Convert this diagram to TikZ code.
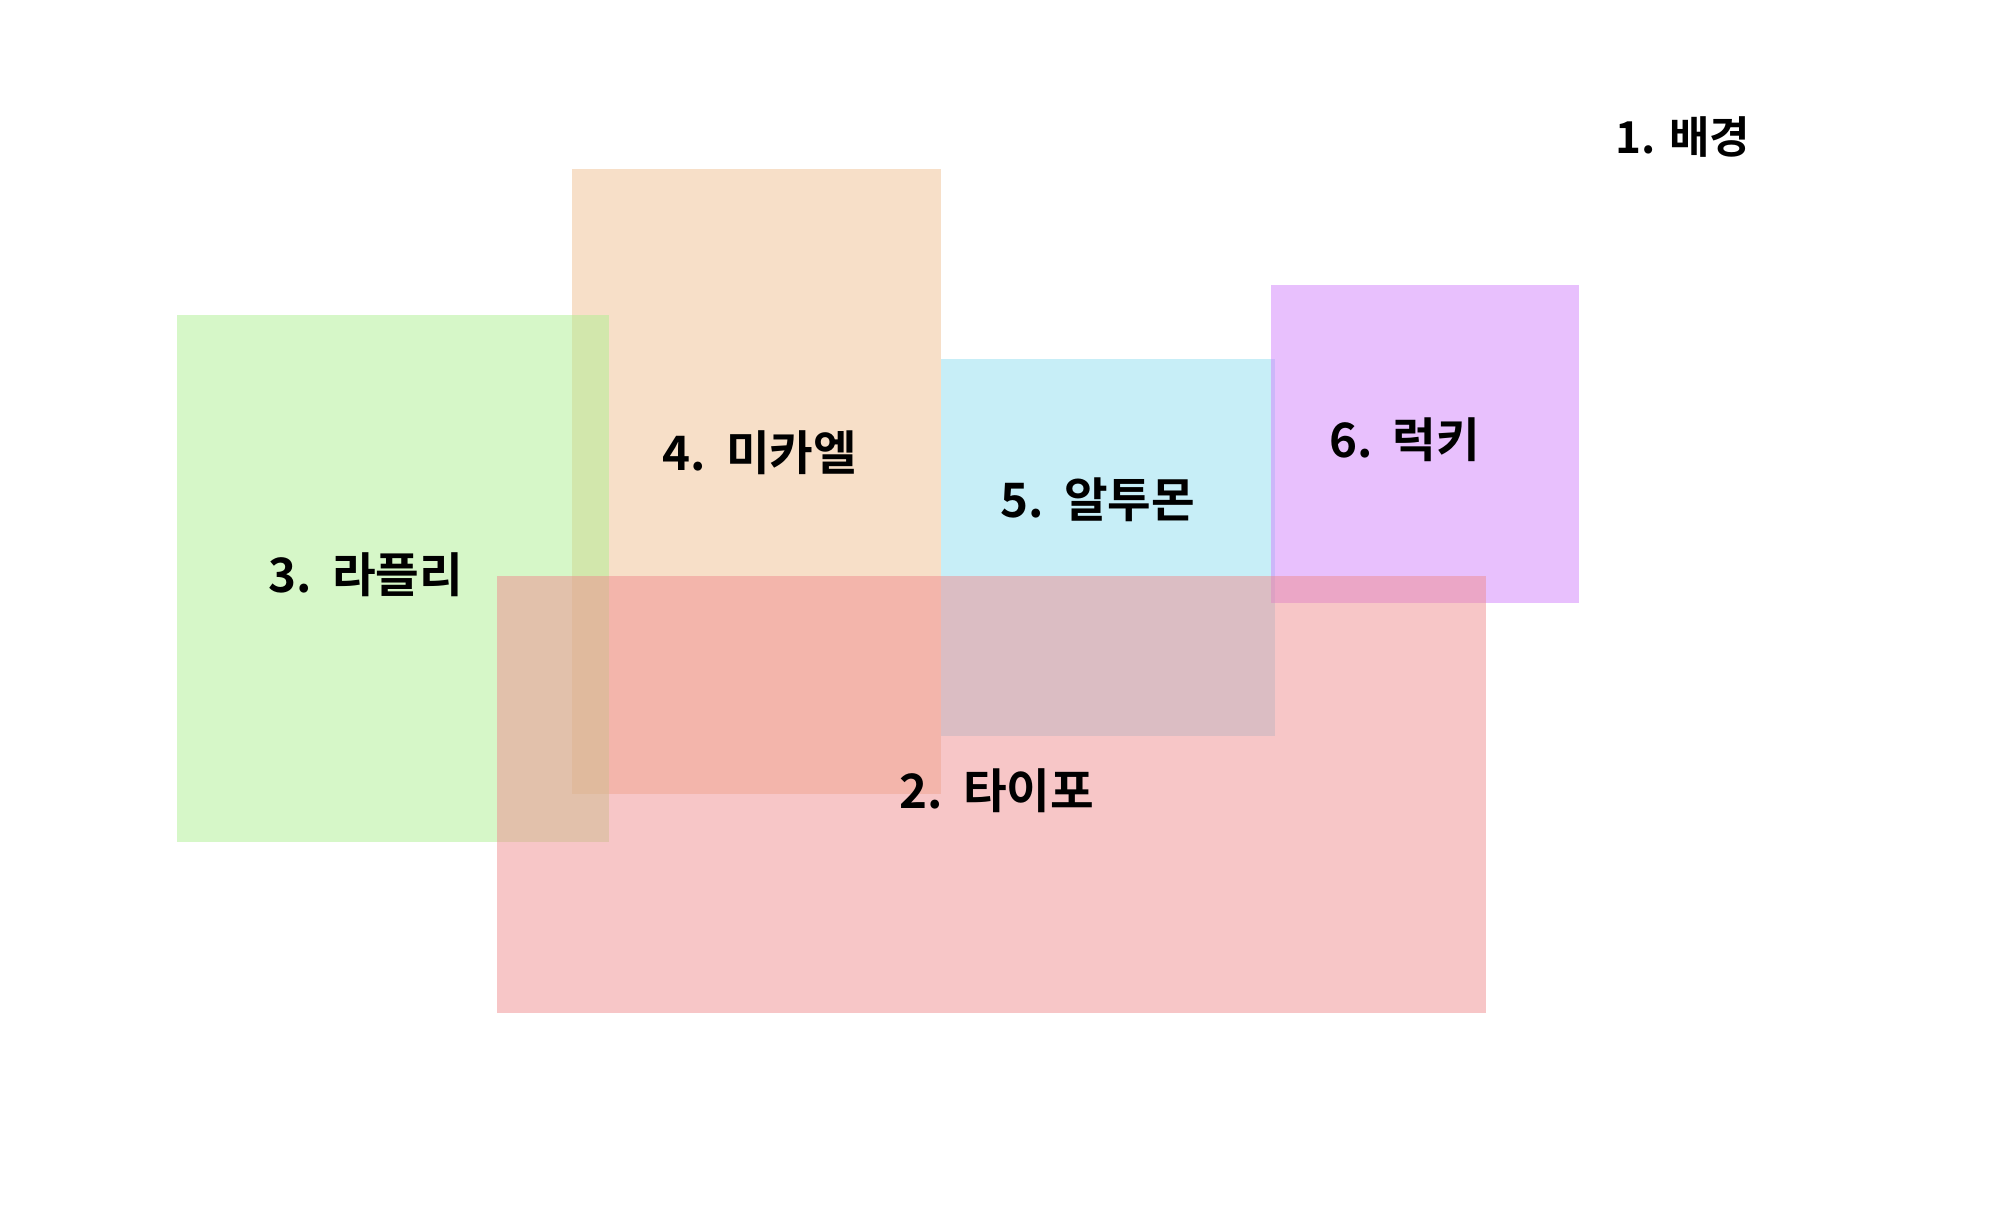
\documentclass[tikz,border=0pt]{standalone}
\usepackage{fontspec}
\setmainfont{Noto Sans CJK KR}[BoldFont={Noto Sans CJK KR Bold}]
\newfontfamily\lblfont{Noto Sans CJK KR Bold}[WordSpace=1.5]
\usepackage{tikz}
\definecolor{LPgreen}{HTML}{ADEF91}
\definecolor{LPorange}{HTML}{EFBF91}
\definecolor{LPcyan}{HTML}{8FDDEF}
\definecolor{LPpurple}{HTML}{D181FB}
\definecolor{LPpink}{HTML}{EF8D8F}

\begin{document}
\begin{tikzpicture}[x=0.01cm,y=-0.01cm,
  layer/.style={fill opacity=0.5},
  lbl/.style={font=\fontsize{13.5}{15}\lblfont, text=black, inner sep=0pt}]
  \useasboundingbox (0,0) rectangle (2007,1224);
  % layers, back to front
  \fill[layer,LPorange] (572,169) rectangle (941,794);
  \fill[layer,LPgreen] (177,315) rectangle (609,842);
  \fill[layer,LPcyan] (941,359) rectangle (1275,736);
  \fill[layer,LPpurple] (1271,285) rectangle (1579,603);
  \fill[layer,LPpink] (497,576) rectangle (1486,1013);
  % labels
  \node[lbl,font=\fontsize{12.5}{14}\selectfont\bfseries] (bg) at (1683,137) {1. 배경};
  \node[lbl] (typo) at (997,791) {2. 타이포};
  \node[lbl] (rapl) at (366,575) {3. 라플리};
  \node[lbl] (mika) at (760,453) {4. 미카엘};
  \node[lbl] (altu) at (1098,500) {5. 알투몬};
  \node[lbl] (lucky) at (1405,440) {6. 럭키};
\end{tikzpicture}
\end{document}
